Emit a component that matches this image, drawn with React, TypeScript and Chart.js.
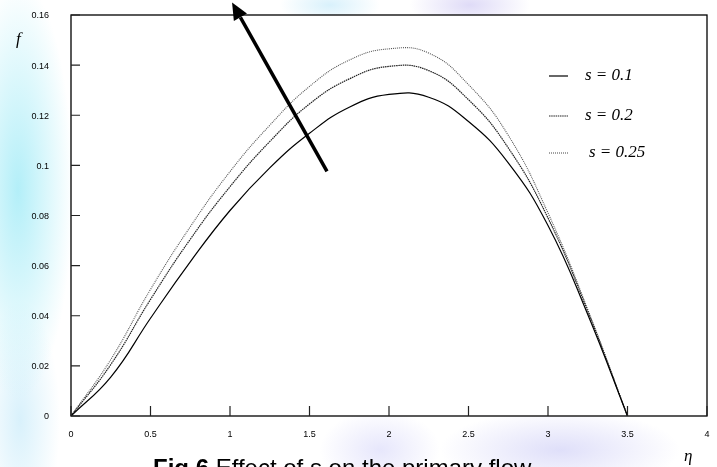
import React, { useEffect, useRef } from "react";
import { Chart, registerables } from "chart.js";

Chart.register(...registerables);

const etaValues = [0, 0.25, 0.5, 0.75, 1.0, 1.25, 1.5, 1.75, 2.0, 2.25, 2.5, 2.75, 3.0, 3.25, 3.5];
const fS01 = [0, 0.0155, 0.039, 0.0615, 0.082, 0.099, 0.1128, 0.1232, 0.1283, 0.1272, 0.1175, 0.101, 0.076, 0.0405, 0];
const fS02 = [0, 0.0205, 0.0465, 0.0705, 0.0915, 0.1095, 0.1245, 0.1345, 0.1395, 0.1378, 0.1262, 0.107, 0.079, 0.0418, 0];
const fS025 = [0, 0.0225, 0.0505, 0.0755, 0.0975, 0.116, 0.1315, 0.142, 0.1465, 0.1448, 0.1322, 0.112, 0.081, 0.0425, 0];
const seriesLabels = ["s = 0.1", "s = 0.2", "s = 0.25"];
const xTicks = [0, 0.5, 1, 1.5, 2, 2.5, 3, 3.5, 4];
const yTicks = [0, 0.02, 0.04, 0.06, 0.08, 0.1, 0.12, 0.14, 0.16];
const xTickLabels = ["0", "0.5", "1", "1.5", "2", "2.5", "3", "3.5", "4"];
const yTickLabels = ["0", "0.02", "0.04", "0.06", "0.08", "0.1", "0.12", "0.14", "0.16"];
const arrowTail = { x: 1.61, y: 0.0976 };
const arrowTip = { x: 1.013, y: 0.165 };
const caption = ["Fig.6", " Effect of s on the primary flow"];

const styles = [
  { color: "#000000", dash: [] as number[], width: 1.2 },
  { color: "#222222", dash: [1.5, 0.7], width: 1.2 },
  { color: "#555555", dash: [1, 1], width: 1.1 },
];

const tickFont = "9px 'Liberation Sans', Arial, sans-serif";

const decorPlugin = {
  id: "decor",
  beforeDraw(chart: any) {
    const { ctx, chartArea } = chart;
    ctx.save();
    ctx.fillStyle = "#ffffff";
    ctx.fillRect(chartArea.left, chartArea.top, chartArea.right - chartArea.left, chartArea.bottom - chartArea.top);
    ctx.restore();
  },
  afterDraw(chart: any) {
    const { ctx, chartArea, scales } = chart;
    const xs = scales.x;
    const ys = scales.y;
    ctx.save();
    // frame
    ctx.strokeStyle = "#000";
    ctx.lineWidth = 1.3;
    ctx.strokeRect(chartArea.left, chartArea.top, chartArea.right - chartArea.left, chartArea.bottom - chartArea.top);
    // inward ticks
    ctx.lineWidth = 1.2;
    ctx.strokeStyle = "#222";
    ctx.beginPath();
    xTicks.forEach((v) => {
      const px = xs.getPixelForValue(v);
      ctx.moveTo(px, chartArea.bottom);
      ctx.lineTo(px, chartArea.bottom - 10);
    });
    yTicks.forEach((v) => {
      const py = ys.getPixelForValue(v);
      ctx.moveTo(chartArea.left, py);
      ctx.lineTo(chartArea.left + 9, py);
    });
    ctx.stroke();

    // tick labels
    ctx.fillStyle = "#000";
    ctx.font = tickFont;
    ctx.textBaseline = "middle";
    ctx.textAlign = "center";
    xTicks.forEach((v, i) => {
      ctx.fillText(xTickLabels[i], xs.getPixelForValue(v), chartArea.bottom + 19);
    });
    ctx.textAlign = "right";
    yTicks.forEach((v, i) => {
      ctx.fillText(yTickLabels[i], chartArea.left - 22, ys.getPixelForValue(v) + 1);
    });
    ctx.textAlign = "left";

    // legend
    const lx = chartArea.left + 478;
    const ty = [chartArea.top + 61, chartArea.top + 101, chartArea.top + 138];
    ctx.font = "italic 17px 'Liberation Serif', 'DejaVu Serif', serif";
    ctx.fillStyle = "#000";
    ctx.textBaseline = "middle";
    seriesLabels.forEach((lab, i) => {
      ctx.beginPath();
      ctx.strokeStyle = styles[i].color;
      ctx.lineWidth = styles[i].width;
      ctx.setLineDash(styles[i].dash);
      ctx.moveTo(lx, ty[i]);
      ctx.lineTo(lx + 19, ty[i]);
      ctx.stroke();
      ctx.setLineDash([]);
      ctx.fillText(lab, lx + 36 + (i === 2 ? 4 : 0), ty[i]);
    });

    // arrow
    const x1 = xs.getPixelForValue(arrowTail.x);
    const y1 = ys.getPixelForValue(arrowTail.y);
    const x2 = xs.getPixelForValue(arrowTip.x);
    const y2 = ys.getPixelForValue(arrowTip.y);
    const ang = Math.atan2(y2 - y1, x2 - x1);
    const headLen = 17;
    const headW = 7.5;
    const bx = x2 - headLen * Math.cos(ang);
    const by = y2 - headLen * Math.sin(ang);
    ctx.strokeStyle = "#000";
    ctx.lineWidth = 3.5;
    ctx.beginPath();
    ctx.moveTo(x1, y1);
    ctx.lineTo(bx, by);
    ctx.stroke();
    ctx.fillStyle = "#000";
    ctx.beginPath();
    ctx.moveTo(x2, y2);
    ctx.lineTo(bx + headW * Math.sin(ang), by - headW * Math.cos(ang));
    ctx.lineTo(bx - headW * Math.sin(ang), by + headW * Math.cos(ang));
    ctx.closePath();
    ctx.fill();

    // axis titles
    ctx.fillStyle = "#000";
    ctx.font = "italic 17px 'Liberation Serif', serif";
    ctx.textBaseline = "alphabetic";
    ctx.textAlign = "left";
    ctx.fillText("f", 16, 44);
    ctx.fillText("η", 684, 461);

    // caption
    ctx.font = "bold 24px 'Liberation Sans', Arial, sans-serif";
    const w0 = ctx.measureText(caption[0]).width;
    ctx.fillText(caption[0], 153, 476);
    ctx.font = "24px 'Liberation Sans', Arial, sans-serif";
    ctx.fillText(caption[1], 153 + w0, 476);
    ctx.restore();
  },
};

export default function App() {
  const ref = useRef<HTMLCanvasElement | null>(null);
  useEffect(() => {
    document.body.style.margin = "0";
    const canvas = ref.current;
    if (!canvas) return;
    const mk = (vals: number[]) => etaValues.map((x, i) => ({ x, y: vals[i] }));
    const chart = new Chart(canvas, {
      type: "line",
      data: {
        datasets: [fS01, fS02, fS025].map((vals, i) => ({
          label: seriesLabels[i],
          data: mk(vals),
          borderColor: styles[i].color,
          borderWidth: styles[i].width,
          borderDash: styles[i].dash,
          pointRadius: 0,
          fill: false,
          tension: 0.45,
        })),
      },
      options: {
        animation: false,
        responsive: false,
        maintainAspectRatio: false,
        layout: { padding: { left: 0, top: 15, right: 10, bottom: 0 } },
        plugins: { legend: { display: false }, tooltip: { enabled: false } },
        scales: {
          x: {
            type: "linear",
            min: 0,
            max: 4,
            afterFit: (s: any) => { s.height = 51; },
            grid: { display: false, drawTicks: false },
            border: { display: false },
            ticks: { display: false },
          },
          y: {
            type: "linear",
            min: 0,
            max: 0.16,
            afterFit: (s: any) => { s.width = 71; },
            grid: { display: false, drawTicks: false },
            border: { display: false },
            ticks: { display: false },
          },
        },
      },
      plugins: [decorPlugin],
    });
    return () => chart.destroy();
  }, []);

  const bg =
    "radial-gradient(ellipse 55px 210px at 18px 190px, rgba(175,238,248,0.95), rgba(175,238,248,0) 100%)," +
    "radial-gradient(ellipse 40px 120px at 20px 420px, rgba(200,235,250,0.7), rgba(200,235,250,0) 100%)," +
    "radial-gradient(ellipse 120px 40px at 560px 450px, rgba(215,215,248,0.8), rgba(215,215,248,0) 100%)," +
    "radial-gradient(ellipse 60px 40px at 380px 450px, rgba(220,220,250,0.7), rgba(220,220,250,0) 100%)," +
    "radial-gradient(ellipse 60px 25px at 470px 5px, rgba(215,210,245,0.8), rgba(215,210,245,0) 100%)," +
    "radial-gradient(ellipse 50px 20px at 330px 5px, rgba(200,235,250,0.7), rgba(200,235,250,0) 100%)," +
    "#ffffff";

  return (
    <div style={{ width: 717, height: 467, overflow: "hidden", background: bg, position: "relative" }}>
      <canvas ref={ref} width={717} height={467} style={{ display: "block", width: 717, height: 467 }} />
    </div>
  );
}
